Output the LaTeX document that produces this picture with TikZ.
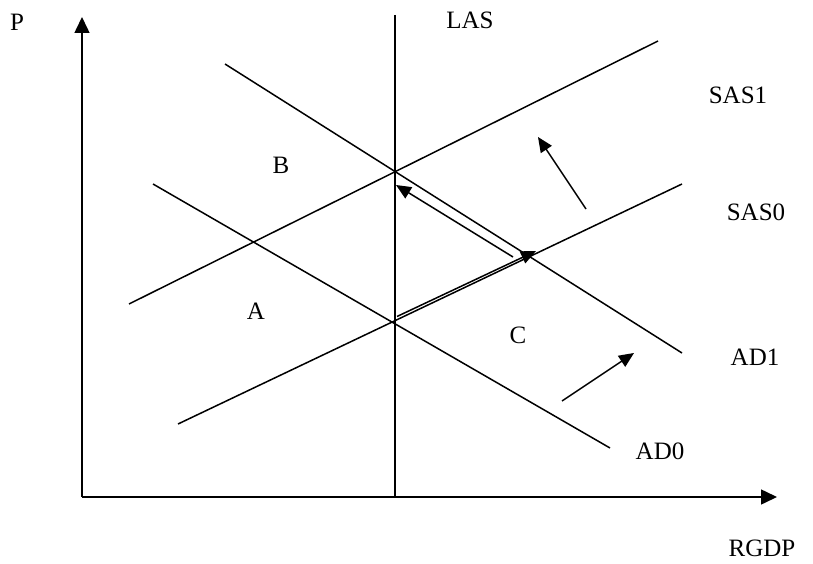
\documentclass[tikz,border=0pt]{standalone}
\usepackage{fontspec}
\setmainfont{Liberation Serif}
\usetikzlibrary{arrows.meta}
\begin{document}
\begin{tikzpicture}[x=1pt,y=-1pt,
  curve/.style={line width=1.5pt},
  arr/.style={line width=1.5pt,-{Triangle[length=15pt,width=13pt]}},
  axisline/.style={line width=1.5pt,-{Triangle[length=16pt,width=15pt]}},
  lbl/.style={font=\fontsize{25}{25}\selectfont, inner sep=0pt}]
\useasboundingbox (0,0) rectangle (813,564);
% axes
\coordinate (O) at (82,497);
\coordinate (Ytop) at (82,17);
\coordinate (Xend) at (777,497);
\draw[axisline] (O) -- (Ytop);
\draw[axisline] (O) -- (Xend);
% curves
\coordinate (las1) at (395,15);
\coordinate (las2) at (395,497);
\coordinate (sas1a) at (129,304);
\coordinate (sas1b) at (658,41);
\coordinate (sas0a) at (178,424);
\coordinate (sas0b) at (682,184);
\coordinate (ad1a) at (225,64);
\coordinate (ad1b) at (682,353);
\coordinate (ad0a) at (153,184);
\coordinate (ad0b) at (610,448);
\draw[curve] (las1) -- (las2);
\draw[curve] (sas1a) -- (sas1b);
\draw[curve] (sas0a) -- (sas0b);
\draw[curve] (ad1a) -- (ad1b);
\draw[curve] (ad0a) -- (ad0b);
% movement arrows
\coordinate (m1s) at (397,316.5);
\coordinate (m1e) at (536,251);
\draw[arr] (m1s) -- (m1e);
\coordinate (m2s) at (513,257);
\coordinate (m2e) at (396,185);
\draw[arr] (m2s) -- (m2e);
\coordinate (m3s) at (586,209);
\coordinate (m3e) at (538,137);
\draw[arr] (m3s) -- (m3e);
\coordinate (m4s) at (562,401);
\coordinate (m4e) at (634,353);
\draw[arr] (m4s) -- (m4e);
% labels
\node[lbl] (P) at (17,22) {P};
\node[lbl] (LAS) at (470,20) {LAS};
\node[lbl] (SAS1) at (738,95) {SAS1};
\node[lbl] (SAS0) at (756,212) {SAS0};
\node[lbl] (AD1) at (755,357) {AD1};
\node[lbl] (AD0) at (660,451) {AD0};
\node[lbl] (RGDP) at (762,548) {RGDP};
\node[lbl] (B) at (281,165) {B};
\node[lbl] (A) at (256,311) {A};
\node[lbl] (C) at (518,335) {C};
\end{tikzpicture}
\end{document}
